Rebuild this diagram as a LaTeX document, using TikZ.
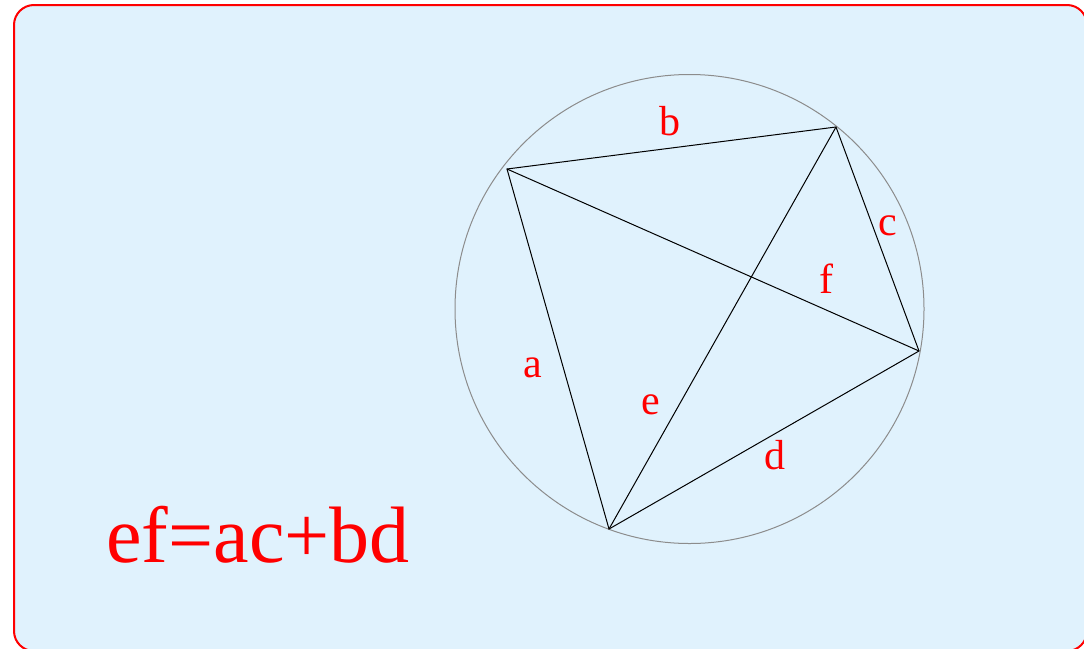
\documentclass[tikz,border=0pt]{standalone}
\usepackage{fontspec}
\setmainfont{Liberation Serif}
\definecolor{paneblue}{HTML}{E0F2FD}

\begin{document}
\begin{tikzpicture}[
    x=1pt, y=-1pt,
    side/.style={text=red, inner sep=0pt, font=\fontsize{42}{42}\selectfont},
    chord/.style={draw=black, line width=1pt}
]
\useasboundingbox (0,0) rectangle (1084,648);
\draw[red, line width=2pt, fill=paneblue, rounded corners=20pt] (14,5) rectangle (1087,651);

\draw[gray!90, line width=1pt] (689.5,309) circle (234.5);

\coordinate (pA) at (507,169);
\coordinate (pB) at (836,127);
\coordinate (pC) at (919,351);
\coordinate (pD) at (609,529);

\draw[chord] (pA) -- (pB) -- (pC) -- (pD) -- cycle;
\draw[chord] (pA) -- (pC);
\draw[chord] (pB) -- (pD);

\node[side] (lb) at (670,121) {b};
\node[side] (lc) at (888,226) {c};
\node[side] (lf) at (826,279) {f};
\node[side] (la) at (533,368) {a};
\node[side] (le) at (651,405) {e};
\node[side] (ld) at (775,455) {d};

\node[text=red, inner sep=0pt, anchor=base, font=\fontsize{80}{80}\selectfont] (ptolemy) at (258,562) {ef=ac+bd};
\end{tikzpicture}
\end{document}
